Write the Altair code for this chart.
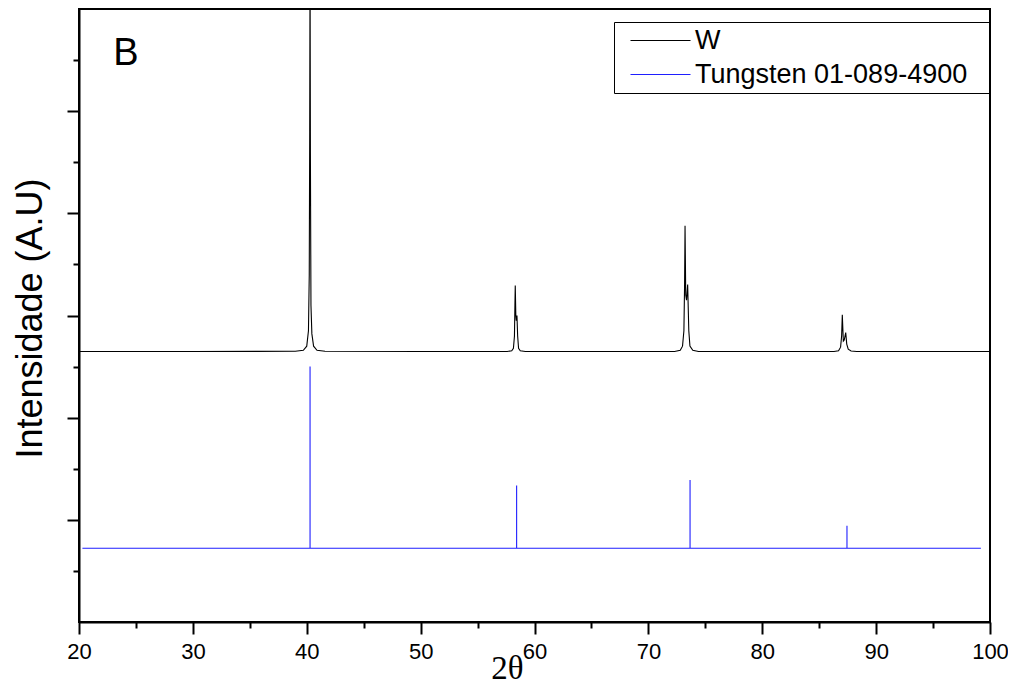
import altair as alt
import pandas as pd

# ---- data ----
w_x = [20.0, 30.0, 39.0, 39.7, 40.0, 40.15, 40.22, 40.26, 40.29, 40.32, 40.37, 40.45, 40.6, 40.9, 41.6,
       50.0, 57.6, 58.0, 58.15, 58.24, 58.28, 58.31, 58.36, 58.40, 58.46, 58.52, 58.6, 58.75, 59.2,
       66.0, 72.3, 72.8, 73.0, 73.12, 73.18, 73.22, 73.28, 73.35, 73.45, 73.55, 73.65, 73.9, 74.4,
       80.0, 86.3, 86.7, 86.88, 86.97, 87.03, 87.12, 87.2, 87.33, 87.42, 87.55, 87.8, 88.3, 100.0]
w_y = [2.647, 2.647, 2.650, 2.660, 2.700, 2.850, 3.400, 4.800, 6.500, 4.600, 3.100, 2.820, 2.700, 2.660, 2.650,
       2.647, 2.648, 2.655, 2.680, 2.800, 3.100, 3.294, 3.000, 2.950, 3.000, 2.800, 2.680, 2.655, 2.648,
       2.647, 2.648, 2.660, 2.700, 2.850, 3.300, 3.879, 3.200, 3.150, 3.304, 2.850, 2.700, 2.660, 2.648,
       2.647, 2.648, 2.655, 2.690, 2.800, 3.007, 2.750, 2.760, 2.833, 2.720, 2.670, 2.652, 2.648, 2.647]

ref_x = [20.3, 40.29, 40.29, 40.29, 58.43, 58.43, 58.43, 73.66, 73.66, 73.66, 87.44, 87.44, 87.44, 99.2]
ref_y = [0.7225, 0.7225, 2.5, 0.7225, 0.7225, 1.336, 0.7225, 0.7225, 1.389, 0.7225, 0.7225, 0.941, 0.7225, 0.7225]

series_names = ["W", "Tungsten 01-089-4900"]
series_colors = ["#000000", "#1f1fff"]

x_major = [20, 30, 40, 50, 60, 70, 80, 90, 100]
x_minor = [25, 35, 45, 55, 65, 75, 85, 95]
y_major = [1, 2, 3, 4, 5]
y_minor = [0.5, 1.5, 2.5, 3.5, 4.5, 5.5]

panel_label = ["B"]
panel_label_x = [24.13]
panel_label_y = [5.56]

# ---- tables ----
rows = []
for i, (x, y) in enumerate(zip(w_x, w_y)):
    rows.append({"x": x, "y": y, "series": series_names[0], "idx": i})
for i, (x, y) in enumerate(zip(ref_x, ref_y)):
    rows.append({"x": x, "y": y, "series": series_names[1], "idx": i})
df = pd.DataFrame(rows)

lab = pd.DataFrame({"t": panel_label, "x": panel_label_x, "y": panel_label_y})

xscale = alt.Scale(domain=[20, 100], nice=False, zero=False)
yscale = alt.Scale(domain=[0, 6], nice=False, zero=False)

FONT = "Liberation Sans"

lines = alt.Chart(df).mark_line(clip=True, strokeWidth=1.1).encode(
    x=alt.X("x:Q", scale=xscale,
            axis=alt.Axis(orient="bottom", values=x_major, tickSize=12, tickWidth=2, tickColor="black",
                          domainColor="black", domainWidth=2, labelFontSize=22, labelFont=FONT,
                          labelColor="black", labelPadding=7, grid=False, labelFlush=False,
                          title="2θ", titleFont="Liberation Serif", titleFontSize=33,
                          titleFontWeight="normal", titleColor="black",
                          titleX=428, titleY=56, titleBaseline="alphabetic", titleAlign="center")),
    y=alt.Y("y:Q", scale=yscale,
            axis=alt.Axis(orient="left", values=y_major, tickSize=12, tickWidth=2, tickColor="black",
                          domainColor="black", domainWidth=2, labels=False, grid=False,
                          title="Intensidade (A.U)", titleFont=FONT, titleFontSize=36,
                          titleFontWeight="normal", titleColor="black", titleAngle=270,
                          titleX=-49, titleY=309, titleAlign="center", titleBaseline="middle")),
    color=alt.Color("series:N",
                    scale=alt.Scale(domain=series_names, range=series_colors),
                    legend=alt.Legend(title="WW", titleOrient="right", titleColor="transparent",
                                      titleFontSize=9, titlePadding=1,
                                      orient="none", legendX=535, legendY=13,
                                      strokeColor="black", padding=5,
                                      symbolType="M-3,0H3", symbolSize=400, symbolStrokeWidth=1.2,
                                      symbolOffset=28, labelOffset=21,
                                      labelFontSize=27, labelFont=FONT, labelColor="black",
                                      labelLimit=600, rowPadding=6)),
    order="idx:Q",
)

minor = alt.Chart(df).mark_point(opacity=0).encode(
    x=alt.X("x:Q", scale=xscale,
            axis=alt.Axis(orient="bottom", values=x_minor, tickSize=6, tickWidth=2, tickColor="black",
                          labels=False, domain=False, grid=False, title=None)),
    y=alt.Y("y:Q", scale=yscale,
            axis=alt.Axis(orient="left", values=y_minor, tickSize=6, tickWidth=2, tickColor="black",
                          labels=False, domain=False, grid=False, title=None)),
)

text = alt.Chart(lab).mark_text(fontSize=38, font=FONT, color="black", align="center",
                                baseline="middle").encode(
    x=alt.X("x:Q", scale=xscale, axis=None),
    y=alt.Y("y:Q", scale=yscale, axis=None),
    text="t:N",
)

chart = alt.layer(lines, minor, text).resolve_axis(x="independent", y="independent").properties(
    width=911, height=613,
    autosize=alt.AutoSizeParams(type="none"),
    padding={"left": 71, "top": 1, "right": 18, "bottom": 62},
    background="white",
).configure_view(stroke="black", strokeWidth=2)

chart.save("out.html", embed_options={"renderer": "svg", "actions": False})
